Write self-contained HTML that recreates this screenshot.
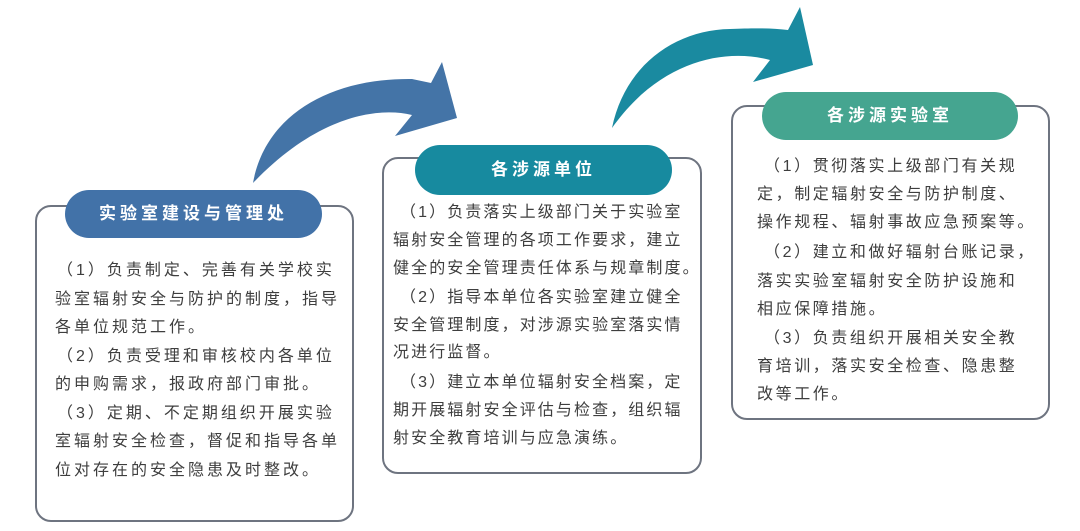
<!DOCTYPE html>
<html><head><meta charset="utf-8"><style>
body{margin:0;width:1080px;height:531px;background:#fff;position:relative;overflow:hidden;font-family:"Liberation Sans","Noto Sans CJK SC",sans-serif;}
.box{position:absolute;border:2px solid #6e7480;border-radius:16px;background:#fff;}
.pill{position:absolute;border-radius:25px;color:#fff;font-weight:bold;font-size:17px;letter-spacing:4px;text-align:center;}
.l{position:absolute;font-size:16px;color:#3e3e3e;white-space:nowrap;line-height:20px;}
.a .l{letter-spacing:3px}
.b .l{letter-spacing:2.1px}
.c .l{letter-spacing:2.6px}
</style></head><body>
<svg width="1080" height="531" style="position:absolute;left:0;top:0">
<path d="M253,183 C265,115 330,78 412,79 L431,83 L442,62 L457,118 L395,136 L412,115 C375,106 315,118 253,183 Z" fill="#4474a7"/>
<path d="M612,128 C625,65 675,30 730,29 C755,28 772,28 788,30 L800,7 L813,65 L753,82 L770,60 C725,48 660,60 612,128 Z" fill="#1a8aa0"/>
</svg>

<div class="box" style="left:35px;top:205px;width:315px;height:313px"></div>
<div class="pill" style="left:65px;top:190px;width:257px;height:48px;line-height:48px;background:#4272a8">实验室建设与管理处</div>
<div class="a">
<div class="l" style="left:57px;top:261px">（1）负责制定、完善有关学校实</div>
<div class="l" style="left:55px;top:290px">验室辐射安全与防护的制度，指导</div>
<div class="l" style="left:55px;top:318px">各单位规范工作。</div>
<div class="l" style="left:57px;top:347px">（2）负责受理和审核校内各单位</div>
<div class="l" style="left:55px;top:375px">的申购需求，报政府部门审批。</div>
<div class="l" style="left:57px;top:404px">（3）定期、不定期组织开展实验</div>
<div class="l" style="left:55px;top:432px">室辐射安全检查，督促和指导各单</div>
<div class="l" style="left:55px;top:461px">位对存在的安全隐患及时整改。</div>
</div>

<div class="box" style="left:382px;top:157px;width:316px;height:313px"></div>
<div class="pill" style="left:415px;top:145px;width:257px;height:50px;line-height:50px;background:#178a9f">各涉源单位</div>
<div class="b">
<div class="l" style="left:400px;top:203px">（1）负责落实上级部门关于实验室</div>
<div class="l" style="left:393px;top:231px">辐射安全管理的各项工作要求，建立</div>
<div class="l" style="left:393px;top:259px">健全的安全管理责任体系与规章制度。</div>
<div class="l" style="left:400px;top:288px">（2）指导本单位各实验室建立健全</div>
<div class="l" style="left:393px;top:316px">安全管理制度，对涉源实验室落实情</div>
<div class="l" style="left:393px;top:343px">况进行监督。</div>
<div class="l" style="left:400px;top:373px">（3）建立本单位辐射安全档案，定</div>
<div class="l" style="left:393px;top:401px">期开展辐射安全评估与检查，组织辐</div>
<div class="l" style="left:393px;top:429px">射安全教育培训与应急演练。</div>
</div>

<div class="box" style="left:731px;top:105px;width:315px;height:311px"></div>
<div class="pill" style="left:762px;top:92px;width:256px;height:48px;line-height:48px;background:#45a590">各涉源实验室</div>
<div class="c">
<div class="l" style="left:764px;top:157px">（1）贯彻落实上级部门有关规</div>
<div class="l" style="left:757px;top:185px">定，制定辐射安全与防护制度、</div>
<div class="l" style="left:757px;top:213px">操作规程、辐射事故应急预案等。</div>
<div class="l" style="left:764px;top:243px">（2）建立和做好辐射台账记录，</div>
<div class="l" style="left:757px;top:272px">落实实验室辐射安全防护设施和</div>
<div class="l" style="left:757px;top:300px">相应保障措施。</div>
<div class="l" style="left:764px;top:329px">（3）负责组织开展相关安全教</div>
<div class="l" style="left:757px;top:357px">育培训，落实安全检查、隐患整</div>
<div class="l" style="left:757px;top:385px">改等工作。</div>
</div>
</body></html>
